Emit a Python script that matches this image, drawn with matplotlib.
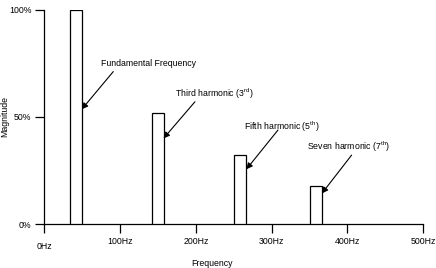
import matplotlib
matplotlib.use('Agg')
import matplotlib.pyplot as plt
import matplotlib.transforms as mtransforms

plt.rcParams['font.family'] = ['Liberation Sans', 'DejaVu Sans']
plt.rcParams['mathtext.fontset'] = 'custom'
plt.rcParams['mathtext.rm'] = 'Liberation Sans'
plt.rcParams['mathtext.it'] = 'Liberation Sans:italic'

# data
bar_center = [41.5, 149.5, 258.5, 358.5]   # Hz
magnitude = [100, 51.7, 32.1, 17.6]        # %
x_ticks = [0, 100, 200, 300, 400, 500]
x_labels = ['0Hz', '100Hz', '200Hz', '300Hz', '400Hz', '500Hz']
y_ticks = [0, 50, 100]
y_labels = ['0%', '50%', '100%']
notes = ['Fundamental Frequency', 'Third harmonic (3$^{\\rm rd}$)',
         'Fifth harmonic (5$^{\\rm th}$)', 'Seven harmonic (7$^{\\rm th}$)']

fig = plt.figure(figsize=(4.36, 2.68), dpi=100)
ax = fig.add_axes([0.102, 0.164, 0.868, 0.799])

ax.bar(bar_center, magnitude, width=16, color='white', edgecolor='black',
       linewidth=0.9, zorder=3)

ax.set_xlim(0, 500)
ax.set_ylim(0, 100)
ax.spines['top'].set_visible(False)
ax.spines['right'].set_visible(False)
for s in ('left', 'bottom'):
    ax.spines[s].set_linewidth(0.9)
ax.set_xticks(x_ticks)
ax.set_xticklabels(x_labels, fontsize=6.3)
ax.set_yticks(y_ticks)
ax.set_yticklabels(y_labels, fontsize=6.3)
ax.tick_params(length=6.5, width=0.9, pad=3)

ax.set_xlabel('Frequency', fontsize=6.3)
ax.xaxis.set_label_coords(0.442, -0.162)
ax.set_ylabel('Magnitude', fontsize=6.3)
ax.yaxis.set_label_coords(-0.092, 0.5)

# 0Hz label sits a bit lower in the original
lab0 = ax.get_xticklabels()[0]
lab0.set_transform(lab0.get_transform() +
                   mtransforms.ScaledTranslation(0, -5 / 100, fig.dpi_scale_trans))

# annotation layout: text centre, arrow start, arrow tip
text_xy = [(137.3, 75.1), (224, 60.7), (313.5, 45.2), (401.6, 36.1)]
arrow_from = [(90.9, 71.2), (198.8, 57.1), (308.5, 43.9), (405.8, 32.2)]
arrow_to = [(49.3, 53.6), (157.3, 40.0), (266.8, 25.6), (366.5, 14.3)]

for note, txy, a0, a1 in zip(notes, text_xy, arrow_from, arrow_to):
    ax.text(txy[0], txy[1], note, fontsize=6.3, ha='center', va='center')
    ax.annotate('', xy=a1, xytext=a0,
                arrowprops=dict(arrowstyle='-|>', color='black', lw=0.8,
                                mutation_scale=9, shrinkA=0, shrinkB=0))

fig.savefig('out.png', dpi=100)
